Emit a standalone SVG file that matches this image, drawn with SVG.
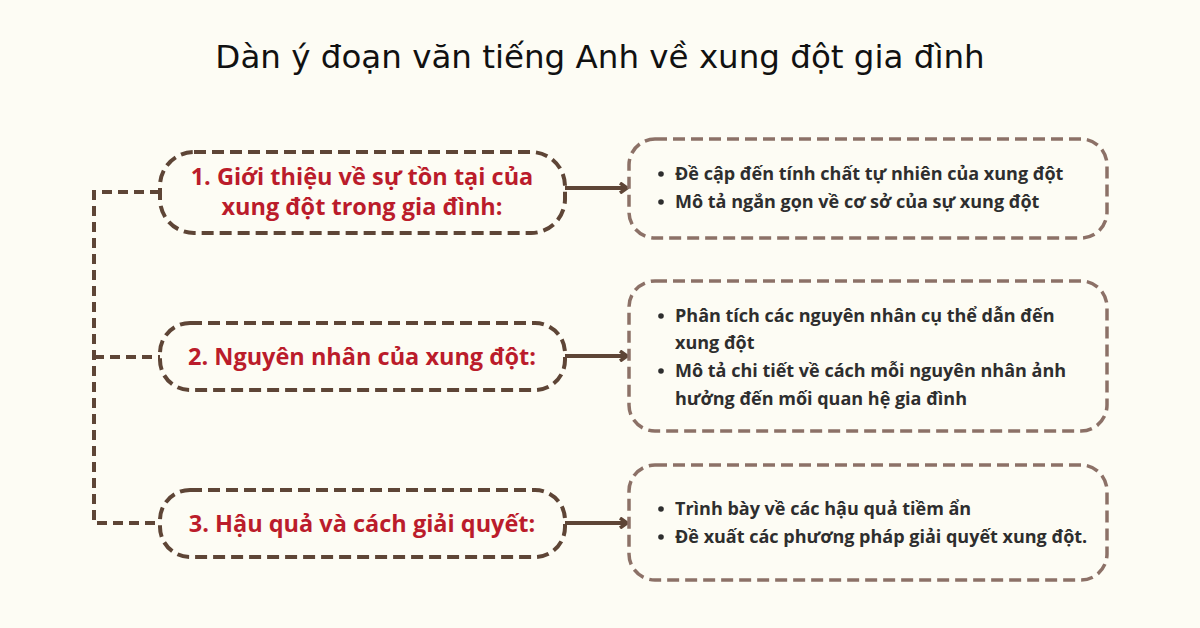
<svg xmlns="http://www.w3.org/2000/svg" width="1200" height="628" viewBox="0 0 1200 628">
<defs>
<marker id="arr" markerWidth="10" markerHeight="12" refX="8" refY="6" orient="auto" markerUnits="userSpaceOnUse">
<path d="M1,1 L8,6 L1,11" fill="none" stroke="#5e4536" stroke-width="3.5" stroke-linejoin="miter"/>
</marker>
</defs>
<style>
.title{font-family:"DejaVu Sans","Open Sans","Liberation Sans",sans-serif;font-size:32.5px;fill:#111;text-anchor:middle}
.lbox{fill:none;stroke:#5e4536;stroke-width:4;stroke-dasharray:12 6}
.rbox{fill:none;stroke:#8c7167;stroke-width:3.5;stroke-dasharray:12 6}
.ltxt{font-family:"Open Sans","Liberation Sans",sans-serif;font-weight:700;font-size:23.5px;fill:#bb1c2b;text-anchor:middle}
.rtxt{font-family:"Open Sans","Liberation Sans",sans-serif;font-weight:700;font-size:18px;fill:#2e2e2e}
.dash{fill:none;stroke:#5e4536;stroke-width:4;stroke-dasharray:10 6}
.arrow{fill:none;stroke:#5e4536;stroke-width:4;marker-end:url(#arr)}
.bul{fill:#2e2e2e}
</style>
<rect width="1200" height="628" fill="#fdfcf4"/>
<text class="title" x="600" y="68">Dàn ý đoạn văn tiếng Anh về xung đột gia đình</text>

<g id="connectors">
<path class="dash" d="M160,192 H94 V523 H160"/>
<path class="dash" d="M94,357 H160"/>
<path class="arrow" d="M565,188 H627"/>
<path class="arrow" d="M565,356 H627"/>
<path class="arrow" d="M565,523 H627"/>
</g>

<g id="node1">
<rect class="lbox" x="160" y="152" width="405" height="81" rx="34"/>
<text class="ltxt" x="362" y="185">1. Giới thiệu về sự tồn tại của</text>
<text class="ltxt" x="362" y="215">xung đột trong gia đình:</text>
</g>
<g id="node2">
<rect class="lbox" x="160" y="323" width="405" height="67" rx="30"/>
<text class="ltxt" x="362" y="365">2. Nguyên nhân của xung đột:</text>
</g>
<g id="node3">
<rect class="lbox" x="160" y="490" width="405" height="67" rx="30"/>
<text class="ltxt" x="362" y="532">3. Hậu quả và cách giải quyết:</text>
</g>

<g id="detail1">
<rect class="rbox" x="629" y="139" width="478" height="99" rx="26"/>
<circle class="bul" cx="661" cy="174" r="2.8"/>
<text class="rtxt" x="675" y="180">Đề cập đến tính chất tự nhiên của xung đột</text>
<circle class="bul" cx="661" cy="202" r="2.8"/>
<text class="rtxt" x="675" y="208">Mô tả ngắn gọn về cơ sở của sự xung đột</text>
</g>
<g id="detail2">
<rect class="rbox" x="629" y="281" width="478" height="150" rx="26"/>
<circle class="bul" cx="661" cy="316" r="2.8"/>
<text class="rtxt" x="675" y="322">Phân tích các nguyên nhân cụ thể dẫn đến</text>
<text class="rtxt" x="675" y="349">xung đột</text>
<circle class="bul" cx="661" cy="371" r="2.8"/>
<text class="rtxt" x="675" y="377">Mô tả chi tiết về cách mỗi nguyên nhân ảnh</text>
<text class="rtxt" x="675" y="405">hưởng đến mối quan hệ gia đình</text>
</g>
<g id="detail3">
<rect class="rbox" x="629" y="465" width="478" height="115" rx="26"/>
<circle class="bul" cx="661" cy="509" r="2.8"/>
<text class="rtxt" x="675" y="515">Trình bày về các hậu quả tiềm ẩn</text>
<circle class="bul" cx="661" cy="537" r="2.8"/>
<text class="rtxt" x="675" y="543">Đề xuất các phương pháp giải quyết xung đột.</text>
</g>
</svg>
